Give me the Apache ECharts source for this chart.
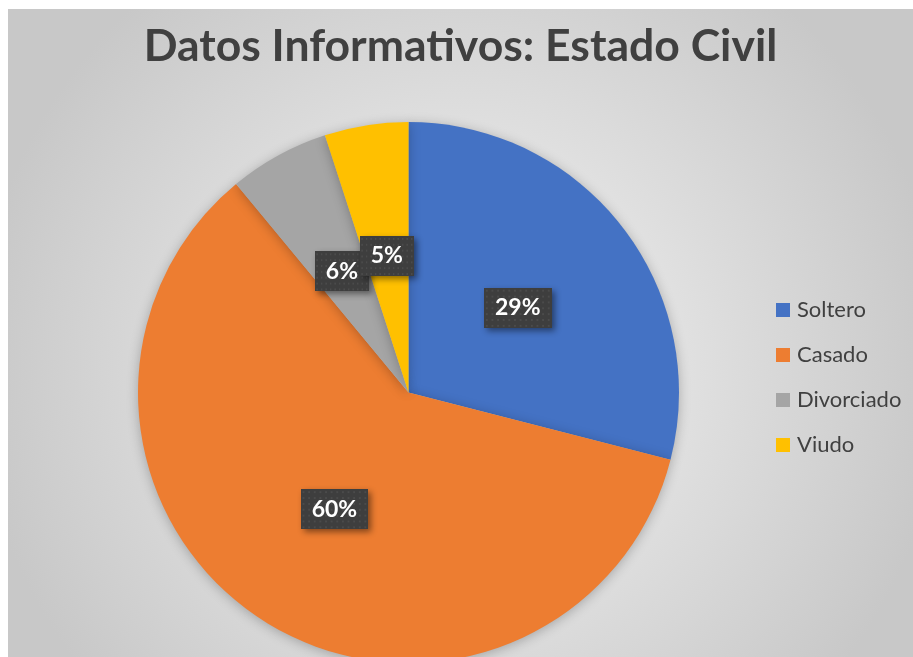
<!DOCTYPE html>
<html>
<head>
<meta charset="utf-8">
<script src="https://cdn.jsdelivr.net/npm/echarts@6/dist/echarts.min.js"></script>
<style>
  body { margin: 0; background: #fff; }
  #main {
    position: absolute;
    left: 8px;
    top: 9px;
    width: 905px;
    height: 648px;
  }
</style>
</head>
<body>
<div id="main"></div>
<script>
  // datos
  const categorias = ['Soltero', 'Casado', 'Divorciado', 'Viudo'];
  const valores = [29, 60, 6, 5];
  const colores = ['#4472C4', '#ED7D31', '#A5A5A5', '#FFC000'];

  // textura punteada para las etiquetas
  function texturaEtiqueta() {
    let c = document.createElement('canvas');
    c.width = 72;
    c.height = 41;
    let ctx = c.getContext('2d');
    ctx.fillStyle = '#3e3e3e';
    ctx.fillRect(0, 0, c.width, c.height);
    ctx.fillStyle = '#4b4b4b';
    for (let y = 2; y < c.height; y += 6) {
      for (let x = 2; x < c.width; x += 6) {
        ctx.fillRect(x, y, 2, 2);
      }
    }
    return c;
  }

  let myChart = echarts.init(document.getElementById('main'));
  let option = {
    backgroundColor: {
      type: 'radial',
      x: 0.5, y: 0.55, r: 0.75,
      colorStops: [
        { offset: 0, color: '#f5f5f5' },
        { offset: 1, color: '#c8c8c8' }
      ]
    },
    color: colores,
    title: {
      text: 'Datos Informativos: Estado Civil',
      left: 'center',
      top: 10,
      textStyle: {
        fontFamily: 'Lato',
        fontWeight: 'bold',
        fontSize: 44.5,
        color: '#404040'
      }
    },
    legend: {
      orient: 'vertical',
      left: 768,
      top: 290,
      padding: 0,
      icon: 'rect',
      itemWidth: 14,
      itemHeight: 14,
      itemGap: 23,
      data: categorias,
      textStyle: {
        fontFamily: 'Lato',
        fontSize: 22,
        color: '#404040',
        padding: [0, 0, 0, 2]
      }
    },
    series: [{
      type: 'pie',
      center: [400.5, 383.5],
      radius: 270.5,
      startAngle: 90,
      clockwise: true,
      avoidLabelOverlap: false,
      animation: false,
      data: categorias.map((c, i) => ({ name: c, value: valores[i] })),
      itemStyle: {
        shadowBlur: 12,
        shadowColor: 'rgba(0,0,0,0.25)',
        shadowOffsetY: 2
      },
      label: {
        position: 'inside',
        formatter: '{d}%',
        fontFamily: 'Lato',
        fontWeight: 'bold',
        fontSize: 23,
        color: '#fff',
        backgroundColor: { image: texturaEtiqueta() },
        padding: [9, 11, 8, 11],
        shadowColor: 'rgba(0,0,0,0.45)',
        shadowBlur: 6,
        shadowOffsetX: 3,
        shadowOffsetY: 3
      },
      labelLayout: { hideOverlap: false },
      labelLine: { show: false },
      emphasis: { disabled: true }
    }]
  };
  myChart.setOption(option);
</script>
</body>
</html>
